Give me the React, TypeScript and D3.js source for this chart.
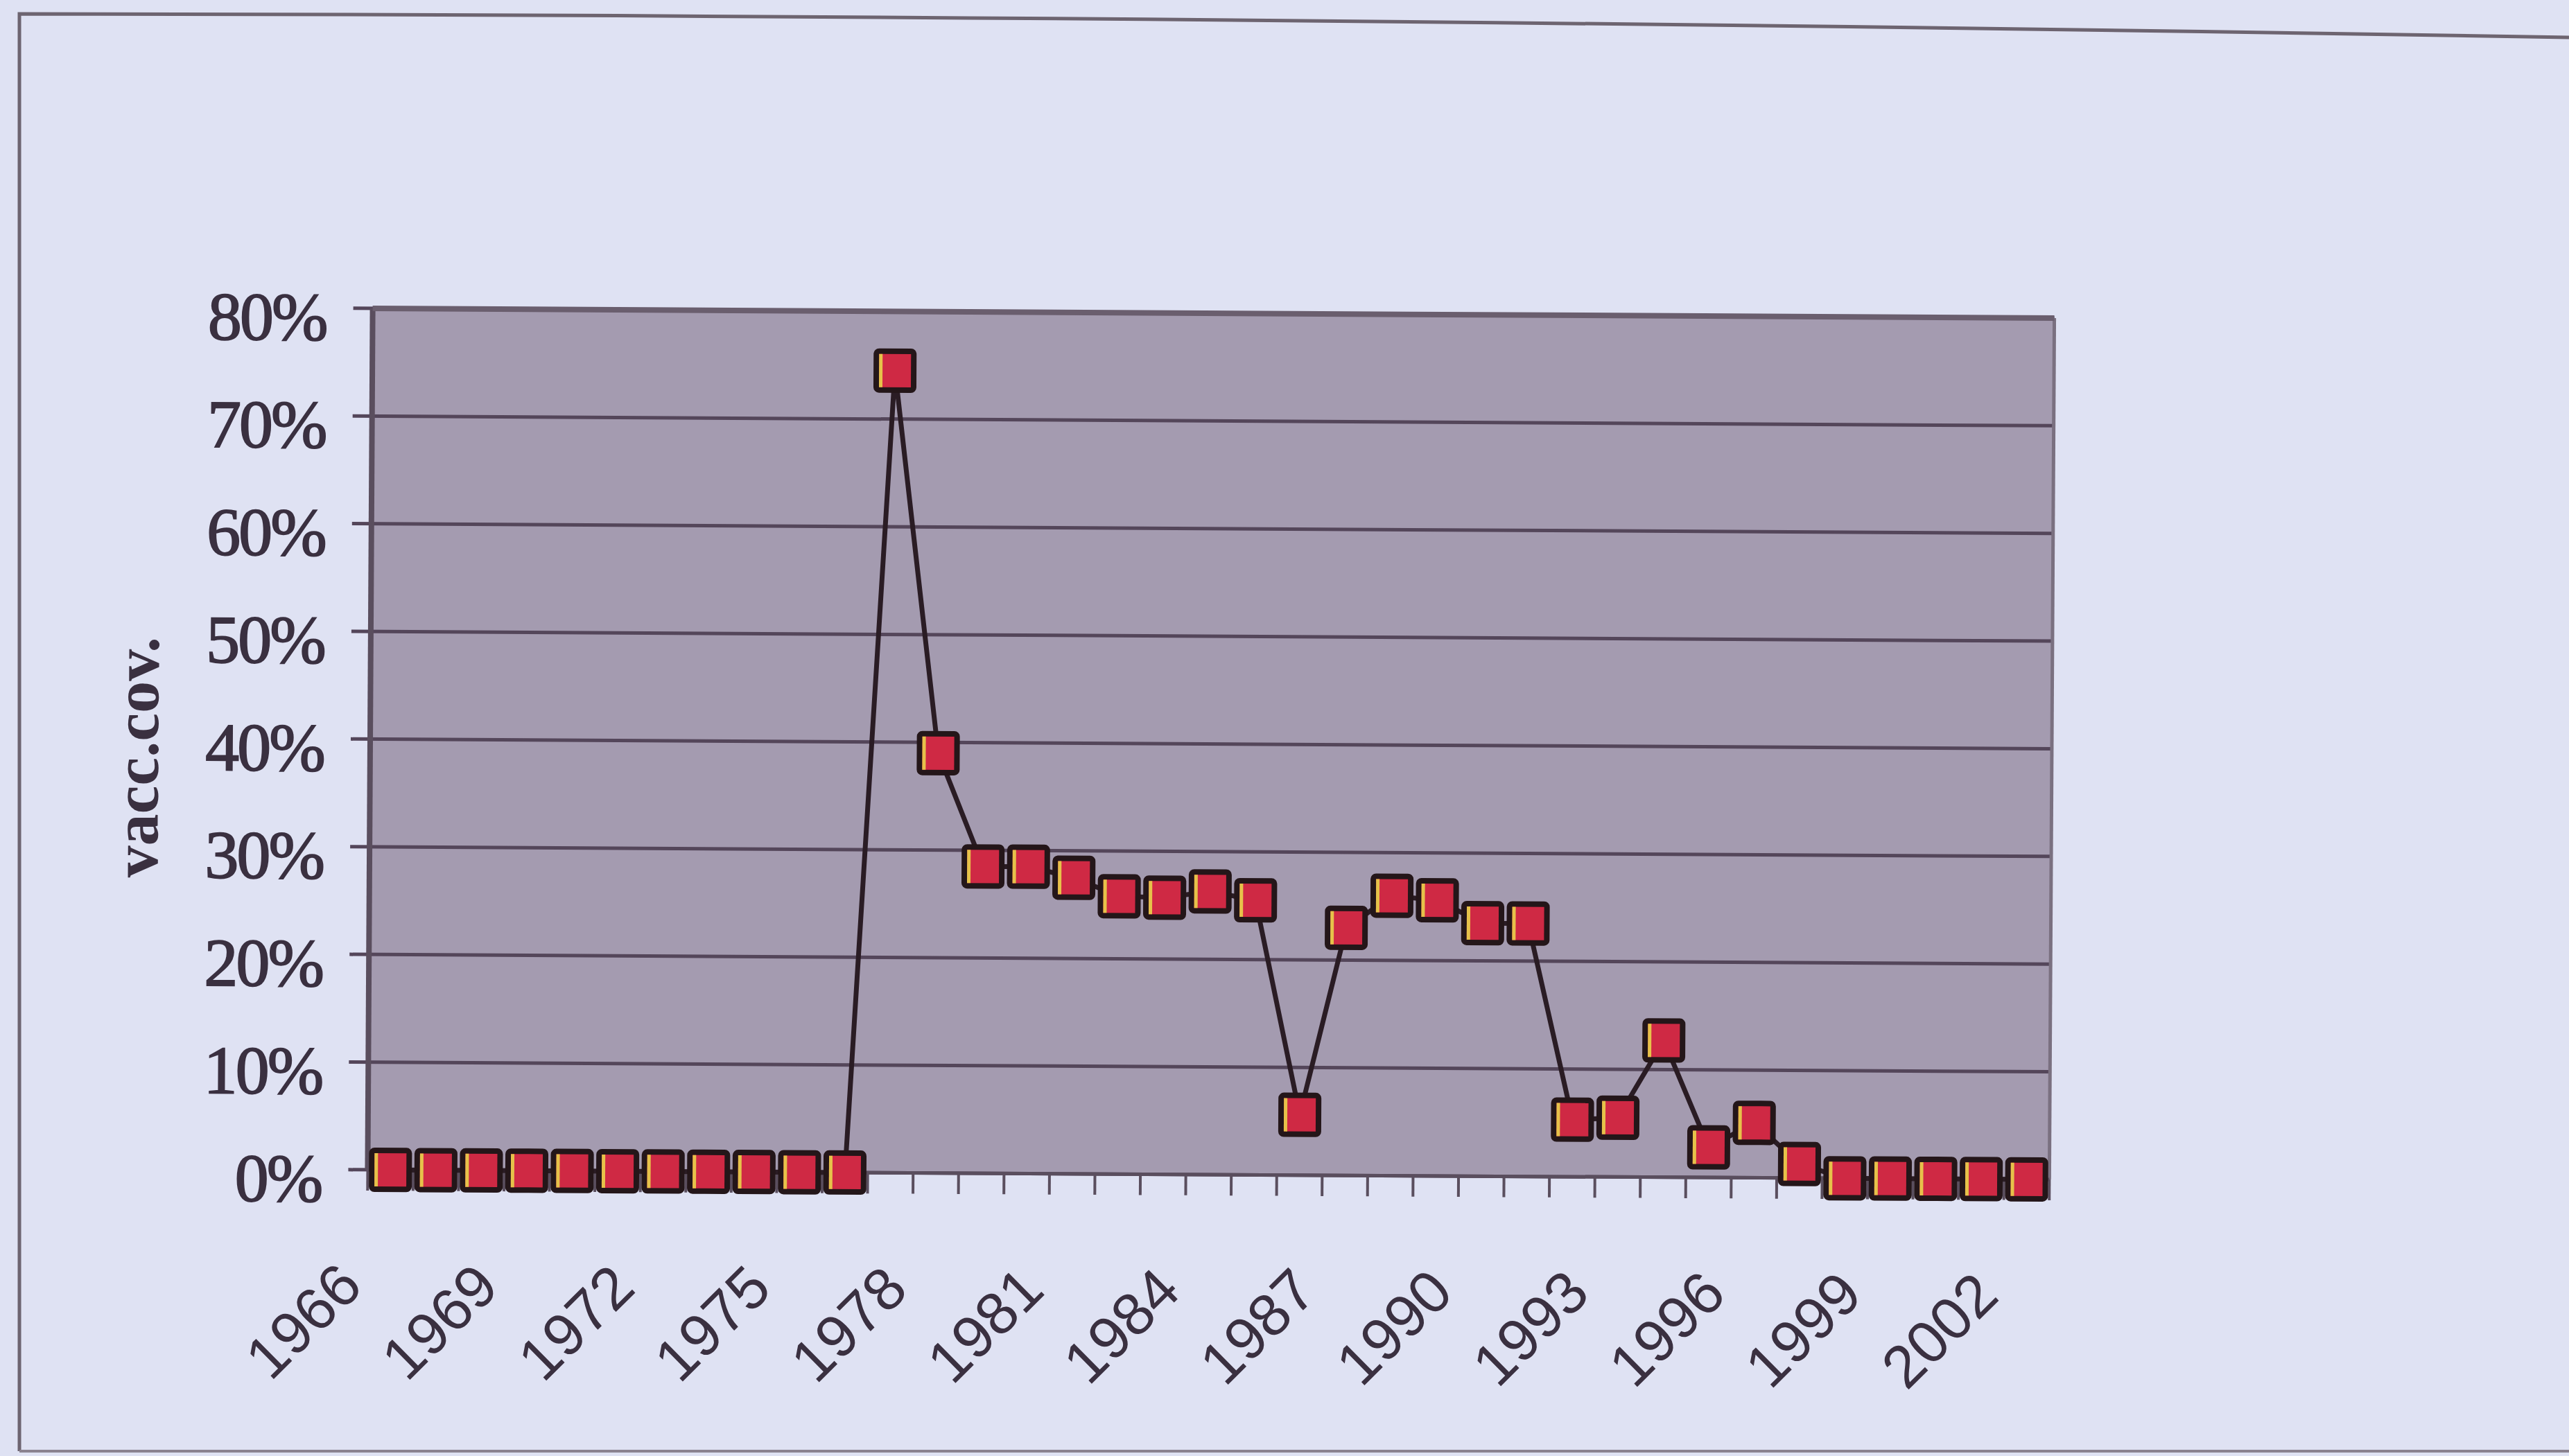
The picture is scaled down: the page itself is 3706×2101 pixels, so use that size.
import React from "react";
import * as d3 from "d3";

const years = [
  "1966","1967","1968","1969","1970","1971","1972","1973","1974","1975","1976",
  "1977","1978","1979","1980","1981","1982","1983","1984","1985","1986","1987",
  "1988","1989","1990","1991","1992","1993","1994","1995","1996","1997","1998",
  "1999","2000","2001","2002",
];
const coverage = [
  0, 0, 0, 0, 0, 0, 0, 0, 0, 0, 0,
  74.5, 39, 28.5, 28.5, 27.5, 25.8, 25.7, 26.3, 25.5, 5.6, 23,
  26, 25.6, 23.5, 23.5, 5.3, 5.5, 12.7, 2.8, 5.1, 1.3, 0,
  0, 0, 0, 0,
];
const yTicks = [0, 10, 20, 30, 40, 50, 60, 70, 80];
const xLabelYears = ["1966","1969","1972","1975","1978","1981","1984","1987","1990","1993","1996","1999","2002"];
const yAxisTitle = "vacc.cov.";

const W = 3706;
const H = 2101;
const M = { left: 534, right: 2960, top: 452, bottom: 1695 };

export default function App() {
  const x = d3.scaleBand<string>().domain(years).range([M.left, M.right]).padding(0);
  const y = d3.scaleLinear().domain([0, 80]).range([M.bottom, M.top]);
  const bw = x.bandwidth();
  const pts = years.map((yr, i) => ({ yr, v: coverage[i], cx: (x(yr) as number) + bw / 2, cy: y(coverage[i]) }));
  const line = d3.line<{ cx: number; cy: number }>().x((d) => d.cx).y((d) => d.cy);
  const cxp = (M.left + M.right) / 2;
  const cyp = (M.top + M.bottom) / 2;
  const mw = 62;
  const mh = 64;
  const textCol = "#3a3040";

  return (
    <svg width={W} height={H} style={{ position: "absolute", left: 0, top: 0 }}>
      <rect x={0} y={0} width={W} height={H} fill="#dfe2f3" />
      <path d="M28 2094 L28 20 Q1800 22 3706 54" fill="none" stroke="#6d6470" strokeWidth={5} />
      <line x1={28} x2={3706} y1={2094} y2={2094} stroke="#8a8290" strokeWidth={4} />
      <g transform={`rotate(0.33 ${cxp} ${cyp})`}>
        <rect x={M.left} y={M.top} width={M.right - M.left} height={M.bottom - M.top} fill="#a49bb0" />
        {yTicks.map((t) => (
          <line key={"g" + t} x1={M.left - 28} x2={M.right} y1={y(t)} y2={y(t)} stroke="#54465a" strokeWidth={5} />
        ))}
        <line x1={M.left} x2={M.left} y1={M.top} y2={M.bottom} stroke="#5a4e5e" strokeWidth={8} />
        <line x1={M.right} x2={M.right} y1={M.top} y2={M.bottom} stroke="#7a7080" strokeWidth={5} />
        <line x1={M.left} x2={M.right} y1={M.top} y2={M.top} stroke="#6a5e6e" strokeWidth={8} />
        <line x1={M.left} x2={M.right} y1={M.bottom} y2={M.bottom} stroke="#5a4e5e" strokeWidth={5} />
        {years.map((yr) => (
          <line key={"t" + yr} x1={x(yr) as number} x2={x(yr) as number} y1={M.bottom} y2={M.bottom + 30} stroke="#5a4e5e" strokeWidth={4} />
        ))}
        <line x1={M.right} x2={M.right} y1={M.bottom} y2={M.bottom + 30} stroke="#5a4e5e" strokeWidth={4} />
        {yTicks.map((t) => (
          <text key={"yl" + t} x={467} y={y(t) + 46} textAnchor="end" fontFamily="'Liberation Serif', 'Times New Roman', serif" fontSize={98} letterSpacing={-3} fill={textCol} stroke={textCol} strokeWidth={1.8}>
            {t + "%"}
          </text>
        ))}
        <text transform={`translate(228 ${(M.top + M.bottom) / 2 + 28}) rotate(-90)`} textAnchor="middle" fontFamily="'Liberation Serif', 'Times New Roman', serif" fontWeight="bold" fontSize={92} fill={textCol}>
          {yAxisTitle}
        </text>
        {xLabelYears.map((yr) => {
          const cx = (x(yr) as number) + bw / 2;
          return (
            <text key={"xl" + yr} transform={`translate(${cx - 36} ${M.bottom + 172}) rotate(-45)`} textAnchor="end" fontFamily="'Liberation Sans', Arial, sans-serif" fontSize={86} fill={textCol}>
              {yr}
            </text>
          );
        })}
        <path d={line(pts) || ""} fill="none" stroke="#2a1c24" strokeWidth={7} strokeLinejoin="round" />
        {pts.map((p) => (
          <g key={"m" + p.yr}>
            <rect x={p.cx - mw / 2} y={p.cy - mh / 2} width={mw} height={mh} rx={8} fill="#241619" />
            <rect x={p.cx - mw / 2 + 8} y={p.cy - mh / 2 + 8} width={mw - 16} height={mh - 16} fill="#cf2944" />
            <rect x={p.cx - mw / 2 + 8} y={p.cy - mh / 2 + 8} width={5} height={mh - 16} fill="#e6c24a" />
          </g>
        ))}
      </g>
    </svg>
  );
}
